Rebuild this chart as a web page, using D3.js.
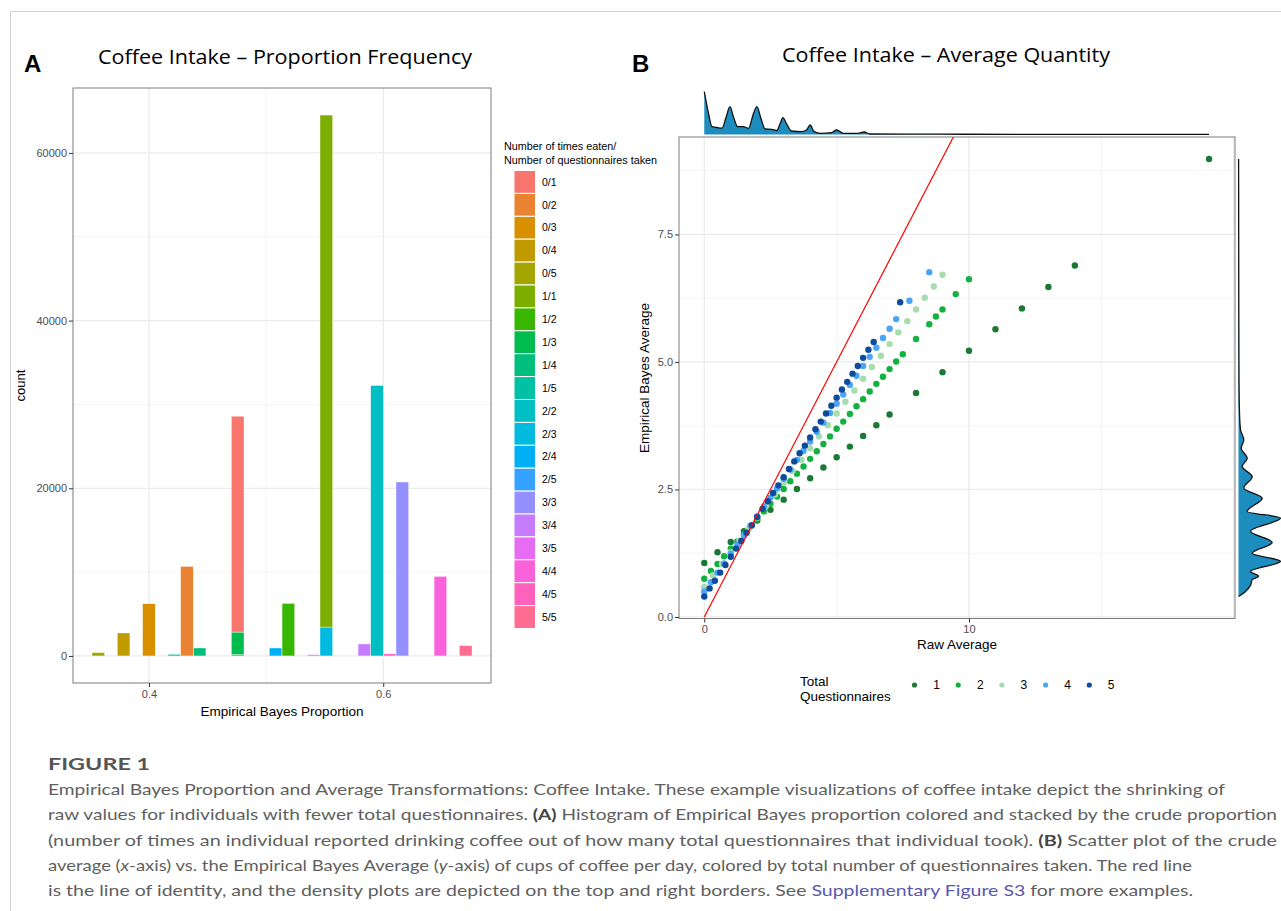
<!DOCTYPE html>
<html>
<head>
<meta charset="utf-8">
<script src="https://cdn.jsdelivr.net/npm/d3@7"></script>
<style>
  body { margin: 0; background: #fff; }
  text { font-family: "Liberation Sans", Arial, sans-serif; }
</style>
</head>
<body>
<div id="figure"></div>
<script>
// ---------- Panel A data (histogram of EB proportion) ----------
var propCategories = ["0/1", "0/2", "0/3", "0/4", "0/5", "1/1", "1/2", "1/3", "1/4", "1/5",
  "2/2", "2/3", "2/4", "2/5", "3/3", "3/4", "3/5", "4/4", "4/5", "5/5"];
// EB proportion bin (centre) that each crude proportion lands in
var propEB = [0.4757, 0.4324, 0.3999, 0.3783, 0.3567, 0.5514, 0.5190, 0.4757, 0.4432, 0.4216,
  0.5947, 0.5514, 0.5081, 0.4757, 0.6163, 0.5839, 0.5406, 0.6488, 0.6055, 0.6704];
var propCounts = [25750, 10680, 6230, 2740, 400, 61070, 6270, 2700, 950, 200,
  32260, 3450, 950, 150, 20750, 1430, 150, 9490, 250, 1230];
var binWidth = 0.010817;
var propXTicks = [0.4, 0.6];
var propYTicks = [0, 20000, 40000, 60000];

// ---------- Panel B data (raw vs EB average, by total questionnaires) ----------
var totalQuestionnaires = [1, 2, 3, 4, 5];
var raw1 = [0, 0.5, 1, 1.5, 2, 2.5, 3, 3.5, 4, 4.5, 5, 5.5, 6, 6.5, 7, 8, 9, 10, 11, 12, 13, 14, 19.07];
var eb1 = [1.06, 1.27, 1.47, 1.68, 1.89, 2.10, 2.30, 2.51, 2.72, 2.93, 3.13, 3.34, 3.55, 3.76, 3.97,
  4.39, 4.80, 5.22, 5.64, 6.05, 6.47, 6.89, 8.98];
var raw2 = [0, 0.25, 0.5, 0.75, 1, 1.25, 1.5, 1.75, 2, 2.25, 2.5, 2.75, 3, 3.25, 3.5, 3.75, 4, 4.25,
  4.5, 4.75, 5, 5.25, 5.5, 5.75, 6, 6.25, 6.5, 6.75, 7, 7.25, 7.5, 8, 8.5, 8.75, 9, 9.5, 10];
var eb2 = [0.75, 0.90, 1.04, 1.19, 1.34, 1.48, 1.63, 1.78, 1.92, 2.07, 2.22, 2.36, 2.51, 2.66, 2.81,
  2.95, 3.10, 3.25, 3.39, 3.54, 3.69, 3.83, 3.98, 4.13, 4.27, 4.42, 4.57, 4.71, 4.86, 5.01, 5.15,
  5.45, 5.74, 5.89, 6.03, 6.33, 6.62];
var raw3 = [0, 0.33, 0.67, 1, 1.33, 1.67, 2, 2.33, 2.67, 3, 3.33, 3.67, 4, 4.33, 4.67, 5, 5.33, 5.67,
  6, 6.33, 6.67, 7, 7.33, 7.67, 8, 8.33, 8.67, 9];
var eb3 = [0.59, 0.82, 1.04, 1.27, 1.50, 1.72, 1.95, 2.18, 2.40, 2.63, 2.86, 3.08, 3.31, 3.54, 3.76,
  3.99, 4.22, 4.44, 4.67, 4.90, 5.12, 5.35, 5.58, 5.80, 6.03, 6.26, 6.48, 6.71];
var raw4 = [0, 0.25, 0.5, 0.75, 1, 1.25, 1.5, 1.75, 2, 2.25, 2.5, 2.75, 3, 3.25, 3.5, 3.75, 4, 4.25,
  4.5, 4.75, 5, 5.25, 5.5, 5.75, 6, 6.25, 6.5, 6.75, 7, 7.25, 7.75, 8.5];
var eb4 = [0.50, 0.68, 0.87, 1.05, 1.24, 1.42, 1.60, 1.79, 1.97, 2.16, 2.34, 2.52, 2.71, 2.89, 3.08,
  3.26, 3.44, 3.63, 3.81, 4.00, 4.18, 4.36, 4.55, 4.73, 4.92, 5.10, 5.28, 5.47, 5.65, 5.84, 6.20, 6.76];
var raw5 = [0, 0.2, 0.4, 0.6, 0.8, 1, 1.2, 1.4, 1.6, 1.8, 2, 2.2, 2.4, 2.6, 2.8, 3, 3.2, 3.4, 3.6,
  3.8, 4, 4.2, 4.4, 4.6, 4.8, 5, 5.2, 5.4, 5.6, 5.8, 6, 6.2, 6.4, 7.4];
var eb5 = [0.40, 0.56, 0.71, 0.87, 1.02, 1.18, 1.34, 1.49, 1.65, 1.80, 1.96, 2.12, 2.27, 2.43, 2.58,
  2.74, 2.90, 3.05, 3.21, 3.36, 3.52, 3.68, 3.83, 3.99, 4.14, 4.30, 4.46, 4.61, 4.77, 4.92, 5.08,
  5.24, 5.39, 6.17];
var avgXTicks = [0, 10];
var avgYTicks = [0, 2.5, 5, 7.5];

// marginal densities
var topDensRaw = [0, 0.16, 0.29, 0.48, 0.67, 0.83, 0.97, 1.1, 1.26, 1.48, 1.67, 1.86, 1.99, 2.14, 2.3,
  2.55, 2.74, 2.87, 2.97, 3.1, 3.29, 3.67, 3.86, 4.0, 4.15, 4.4, 4.8, 5.0, 5.26, 5.8, 6.04, 6.26, 8.9, 12, 19.07];
var topDensVal = [0.428, 0.21, 0.078, 0.07, 0.063, 0.178, 0.278, 0.178, 0.078, 0.078, 0.062, 0.21, 0.278,
  0.16, 0.055, 0.052, 0.04, 0.112, 0.168, 0.112, 0.035, 0.028, 0.045, 0.095, 0.028, 0.012, 0.018, 0.045,
  0.012, 0.012, 0.025, 0.005, 0.003, 0.001, 0.0005];
var rightDensEB = [0.40, 0.50, 0.62, 0.73, 0.80, 0.89, 1.09, 1.25, 1.46, 1.68, 1.94, 2.07, 2.33, 2.53,
  2.75, 2.95, 3.11, 3.31, 3.47, 3.67, 4.0, 4.65, 6.0, 8.98];
var rightDensVal = [0, 0.07, 0.12, 0.137, 0.20, 0.12, 0.42, 0.137, 0.337, 0.12, 0.42, 0.087, 0.237, 0.053,
  0.137, 0.037, 0.087, 0.027, 0.053, 0.02, 0.01, 0.005, 0.003, 0.001];

// ---------- styles ----------
var hueColors = ["#F8766D", "#EA8331", "#D89000", "#C09B00", "#A3A500", "#7CAE00", "#39B600", "#00BB4E",
  "#00BF7D", "#00C1A3", "#00BFC4", "#00BAE0", "#00B0F6", "#35A2FF", "#9590FF", "#C77CFF", "#E76BF3",
  "#FA62DB", "#FF62BC", "#FF6C91"];
var qColors = ["#1a7a35", "#13b13f", "#a6dcae", "#4aa5f8", "#0d4c9c"];
var densFill = "#1d8cbf";
var gridMajor = "#ebebeb";
var gridMinor = "#f4f4f4";
var borderColor = "#7d7d7d";

var svgWidth = 1281;
var svgHeight = 911;

var svg = d3.select("#figure")
  .append("svg")
  .attr("width", svgWidth)
  .attr("height", svgHeight);

// light frame around the figure
svg.append("line").attr("x1", 10.5).attr("x2", svgWidth).attr("y1", 11.5).attr("y2", 11.5)
  .attr("stroke", "#d0d0d0");
svg.append("line").attr("x1", 10.5).attr("x2", 10.5).attr("y1", 11.5).attr("y2", svgHeight)
  .attr("stroke", "#d0d0d0");

function styleAxis(g) {
  g.select(".domain").remove();
  g.selectAll(".tick line").attr("stroke", "#333");
  g.selectAll(".tick text").attr("fill", "#4d4d4d").style("font-size", "11px");
}

// =====================================================================
// Panel A
// =====================================================================
var plotA = { left: 73, top: 88, right: 491, bottom: 683 };

var xA = d3.scaleLinear()
  .domain([0.3351, 0.6920])
  .range([plotA.left, plotA.right]);

var yA = d3.scaleLinear()
  .domain([-3226, 67746])
  .range([plotA.bottom, plotA.top]);

var colorA = d3.scaleOrdinal().domain(propCategories).range(hueColors);

// grid
var gA = svg.append("g");
gA.selectAll(".minorY").data([10000, 30000, 50000]).enter().append("line")
  .attr("x1", plotA.left).attr("x2", plotA.right)
  .attr("y1", d => yA(d)).attr("y2", d => yA(d))
  .attr("stroke", gridMinor).attr("stroke-width", 1);
gA.selectAll(".minorX").data([0.5]).enter().append("line")
  .attr("x1", d => xA(d)).attr("x2", d => xA(d))
  .attr("y1", plotA.top).attr("y2", plotA.bottom)
  .attr("stroke", gridMinor).attr("stroke-width", 1);
gA.selectAll(".majorY").data(propYTicks).enter().append("line")
  .attr("x1", plotA.left).attr("x2", plotA.right)
  .attr("y1", d => yA(d)).attr("y2", d => yA(d))
  .attr("stroke", gridMajor).attr("stroke-width", 1.3);
gA.selectAll(".majorX").data(propXTicks).enter().append("line")
  .attr("x1", d => xA(d)).attr("x2", d => xA(d))
  .attr("y1", plotA.top).attr("y2", plotA.bottom)
  .attr("stroke", gridMajor).attr("stroke-width", 1.3);

// stack bars: first factor level on top, as ggplot does
var stackBase = {};
var barData = [];
for (var i = propCategories.length - 1; i >= 0; i--) {
  var key = propEB[i].toFixed(4);
  var y0 = stackBase[key] || 0;
  barData.push({ cat: propCategories[i], x: propEB[i], y0: y0, y1: y0 + propCounts[i] });
  stackBase[key] = y0 + propCounts[i];
}

gA.selectAll(".bar").data(barData).enter().append("rect")
  .attr("x", d => xA(d.x - binWidth / 2))
  .attr("width", d => xA(d.x + binWidth / 2) - xA(d.x - binWidth / 2))
  .attr("y", d => yA(d.y1))
  .attr("height", d => yA(d.y0) - yA(d.y1))
  .attr("fill", d => colorA(d.cat))
  .attr("stroke", "#fff")
  .attr("stroke-width", 0.4);

gA.append("rect")
  .attr("x", plotA.left).attr("y", plotA.top)
  .attr("width", plotA.right - plotA.left).attr("height", plotA.bottom - plotA.top)
  .attr("fill", "none").attr("stroke", borderColor).attr("stroke-width", 1);

svg.append("g")
  .attr("transform", `translate(${plotA.left}, 0)`)
  .call(d3.axisLeft(yA).tickValues(propYTicks).tickSize(4).tickPadding(2).tickFormat(d3.format("d")))
  .call(styleAxis);

svg.append("g")
  .attr("transform", `translate(0, ${plotA.bottom})`)
  .call(d3.axisBottom(xA).tickValues(propXTicks).tickSize(4).tickPadding(3).tickFormat(d3.format(".1f")))
  .call(styleAxis);

svg.append("text")
  .attr("transform", `translate(25, ${(plotA.top + plotA.bottom) / 2}) rotate(-90)`)
  .attr("text-anchor", "middle")
  .style("font-size", "13px")
  .text("count");

svg.append("text")
  .attr("x", (plotA.left + plotA.right) / 2).attr("y", 716)
  .attr("text-anchor", "middle")
  .style("font-size", "13.5px")
  .text("Empirical Bayes Proportion");

svg.append("text")
  .attr("x", 24).attr("y", 72)
  .style("font-size", "24px").style("font-weight", "bold")
  .text("A");

svg.append("text")
  .attr("x", 98).attr("y", 64)
  .attr("textLength", 374).attr("lengthAdjust", "spacingAndGlyphs")
  .style("font-family", "'Open Sans', 'Noto Sans', sans-serif")
  .style("font-size", "20px")
  .text("Coffee Intake \u2013 Proportion Frequency");

// legend A
var legA = svg.append("g");
legA.append("text").attr("x", 504).attr("y", 150).style("font-size", "10.8px").text("Number of times eaten/");
legA.append("text").attr("x", 504).attr("y", 164).style("font-size", "10.8px").text("Number of questionnaires taken");
var keyH = 22.9;
legA.selectAll(".key").data(propCategories).enter().append("rect")
  .attr("x", 514).attr("y", (d, i) => 170.5 + i * keyH)
  .attr("width", 21.5).attr("height", keyH)
  .attr("fill", d => colorA(d))
  .attr("stroke", "#fff").attr("stroke-width", 1);
legA.selectAll(".keylab").data(propCategories).enter().append("text")
  .attr("x", 542).attr("y", (d, i) => 170.5 + i * keyH + keyH / 2)
  .attr("dy", "0.35em")
  .style("font-size", "10.5px")
  .text(d => d);

// =====================================================================
// Panel B
// =====================================================================
var plotB = { left: 679, top: 137, right: 1235, bottom: 618.5 };

var xB = d3.scaleLinear()
  .domain([-0.955, 20.05])
  .range([plotB.left, plotB.right]);

var yB = d3.scaleLinear()
  .domain([-0.03, 9.41])
  .range([plotB.bottom, plotB.top]);

var colorB = d3.scaleOrdinal().domain(totalQuestionnaires).range(qColors);

var gB = svg.append("g");
gB.selectAll(".minorY").data([1.25, 3.75, 6.25, 8.75]).enter().append("line")
  .attr("x1", plotB.left).attr("x2", plotB.right)
  .attr("y1", d => yB(d)).attr("y2", d => yB(d))
  .attr("stroke", gridMinor).attr("stroke-width", 1);
gB.selectAll(".minorX").data([5, 15]).enter().append("line")
  .attr("x1", d => xB(d)).attr("x2", d => xB(d))
  .attr("y1", plotB.top).attr("y2", plotB.bottom)
  .attr("stroke", gridMinor).attr("stroke-width", 1);
gB.selectAll(".majorY").data(avgYTicks).enter().append("line")
  .attr("x1", plotB.left).attr("x2", plotB.right)
  .attr("y1", d => yB(d)).attr("y2", d => yB(d))
  .attr("stroke", gridMajor).attr("stroke-width", 1.3);
gB.selectAll(".majorX").data([0, 10, 20]).enter().append("line")
  .attr("x1", d => xB(d)).attr("x2", d => xB(d))
  .attr("y1", plotB.top).attr("y2", plotB.bottom)
  .attr("stroke", gridMajor).attr("stroke-width", 1.3);

svg.append("clipPath").attr("id", "clipB")
  .append("rect")
  .attr("x", plotB.left).attr("y", plotB.top)
  .attr("width", plotB.right - plotB.left).attr("height", plotB.bottom - plotB.top);

// points
var rawLists = [raw1, raw2, raw3, raw4, raw5];
var ebLists = [eb1, eb2, eb3, eb4, eb5];
var pointData = [];
totalQuestionnaires.forEach(function(n, k) {
  rawLists[k].forEach(function(r, j) {
    pointData.push({ n: n, raw: r, eb: ebLists[k][j] });
  });
});

gB.append("g").attr("clip-path", "url(#clipB)")
  .selectAll("circle").data(pointData).enter().append("circle")
  .attr("cx", d => xB(d.raw))
  .attr("cy", d => yB(d.eb))
  .attr("r", 3.2)
  .attr("fill", d => colorB(d.n));

// identity line
gB.append("line")
  .attr("clip-path", "url(#clipB)")
  .attr("x1", xB(0)).attr("y1", yB(0))
  .attr("x2", xB(9.41)).attr("y2", yB(9.41))
  .attr("stroke", "#ff0000").attr("stroke-width", 1.2);

gB.append("rect")
  .attr("x", plotB.left).attr("y", plotB.top)
  .attr("width", plotB.right - plotB.left).attr("height", plotB.bottom - plotB.top)
  .attr("fill", "none").attr("stroke", borderColor).attr("stroke-width", 1);

svg.append("g")
  .attr("transform", `translate(${plotB.left}, 0)`)
  .call(d3.axisLeft(yB).tickValues(avgYTicks).tickSize(4).tickPadding(2).tickFormat(d3.format(".1f")))
  .call(styleAxis);

svg.append("g")
  .attr("transform", `translate(0, ${plotB.bottom})`)
  .call(d3.axisBottom(xB).tickValues(avgXTicks).tickSize(4).tickPadding(3).tickFormat(d3.format("d")))
  .call(styleAxis);

svg.append("text")
  .attr("x", 957).attr("y", 649)
  .attr("text-anchor", "middle")
  .style("font-size", "13.5px")
  .text("Raw Average");

svg.append("text")
  .attr("transform", `translate(649, 378) rotate(-90)`)
  .attr("text-anchor", "middle")
  .style("font-size", "13.5px")
  .text("Empirical Bayes Average");

svg.append("text")
  .attr("x", 632).attr("y", 72)
  .style("font-size", "24px").style("font-weight", "bold")
  .text("B");

svg.append("text")
  .attr("x", 782).attr("y", 62)
  .attr("textLength", 328).attr("lengthAdjust", "spacingAndGlyphs")
  .style("font-family", "'Open Sans', 'Noto Sans', sans-serif")
  .style("font-size", "20px")
  .text("Coffee Intake \u2013 Average Quantity");

// top marginal density (raw average)
var topBase = 134.5;
var hTop = d3.scaleLinear().domain([0, 0.45]).range([topBase, topBase - 45]);
var topDens = topDensRaw.map((r, i) => ({ v: r, d: topDensVal[i] }));

svg.append("path").datum(topDens)
  .attr("d", d3.area().x(d => xB(d.v)).y0(topBase).y1(d => hTop(d.d)).curve(d3.curveMonotoneX))
  .attr("fill", densFill);
svg.append("path").datum(topDens)
  .attr("d", d3.line().x(d => xB(d.v)).y(d => hTop(d.d)).curve(d3.curveMonotoneX))
  .attr("fill", "none").attr("stroke", "#111").attr("stroke-width", 1.3);

// right marginal density (EB average)
var rightBase = 1238.5;
var hRight = d3.scaleLinear().domain([0, 0.45]).range([rightBase, rightBase + 45]);
var rightDens = rightDensEB.map((e, i) => ({ v: e, d: rightDensVal[i] }));

svg.append("path").datum(rightDens)
  .attr("d", d3.area().y(d => yB(d.v)).x0(rightBase).x1(d => hRight(d.d)).curve(d3.curveMonotoneY))
  .attr("fill", densFill);
svg.append("path").datum(rightDens)
  .attr("d", d3.line().y(d => yB(d.v)).x(d => hRight(d.d)).curve(d3.curveMonotoneY))
  .attr("fill", "none").attr("stroke", "#111").attr("stroke-width", 1.3);

// legend B
var legB = svg.append("g");
legB.append("text").attr("x", 800).attr("y", 686).style("font-size", "13.5px").text("Total");
legB.append("text").attr("x", 800).attr("y", 701).style("font-size", "13.5px").text("Questionnaires");
legB.selectAll(".dot").data(totalQuestionnaires).enter().append("circle")
  .attr("cx", (d, i) => 914.5 + i * 43.7).attr("cy", 685)
  .attr("r", 2.6)
  .attr("fill", d => colorB(d));
legB.selectAll(".lab").data(totalQuestionnaires).enter().append("text")
  .attr("x", (d, i) => 936.7 + i * 43.6).attr("y", 685).attr("dy", "0.35em")
  .attr("text-anchor", "middle")
  .style("font-size", "12px")
  .text(d => d);

// =====================================================================
// Caption
// =====================================================================
var capFont = "Lato, 'Open Sans', sans-serif";
var capColor = "#5f5f5f";

svg.append("text")
  .attr("x", 48).attr("y", 770)
  .attr("textLength", 102).attr("lengthAdjust", "spacingAndGlyphs")
  .style("font-family", capFont).style("font-size", "17px").style("font-weight", "bold").style("fill", "#555")
  .text("FIGURE 1");

var captionLines = [
  { y: 795, w: 1177, parts: [["Empirical Bayes Proportion and Average Transformations: Coffee Intake. These example visualizations of coffee intake depict the shrinking of", ""]] },
  { y: 820, w: 1229, parts: [["raw values for individuals with fewer total questionnaires. ", ""], ["(A)", "b"], [" Histogram of Empirical Bayes proportion colored and stacked by the crude proportion", ""]] },
  { y: 846, w: 1229, parts: [["(number of times an individual reported drinking coffee out of how many total questionnaires that individual took). ", ""], ["(B)", "b"], [" Scatter plot of the crude", ""]] },
  { y: 871, w: 1144, parts: [["average (", ""], ["x", "i"], ["-axis) vs. the Empirical Bayes Average (", ""], ["y", "i"], ["-axis) of cups of coffee per day, colored by total number of questionnaires taken. The red line", ""]] },
  { y: 896, w: 1145, parts: [["is the line of identity, and the density plots are depicted on the top and right borders. See ", ""], ["Supplementary Figure S3", "l"], [" for more examples.", ""]] }
];

captionLines.forEach(function(line) {
  var t = svg.append("text")
    .attr("x", 48).attr("y", line.y)
    .attr("textLength", line.w).attr("lengthAdjust", "spacingAndGlyphs")
    .style("font-family", capFont).style("font-size", "16px").style("fill", capColor);
  line.parts.forEach(function(p) {
    var s = t.append("tspan").text(p[0]);
    if (p[1] === "b") s.style("font-weight", "bold").style("fill", "#444");
    if (p[1] === "i") s.style("font-style", "italic");
    if (p[1] === "l") s.style("fill", "#5b57b0");
  });
});
</script>
</body>
</html>
